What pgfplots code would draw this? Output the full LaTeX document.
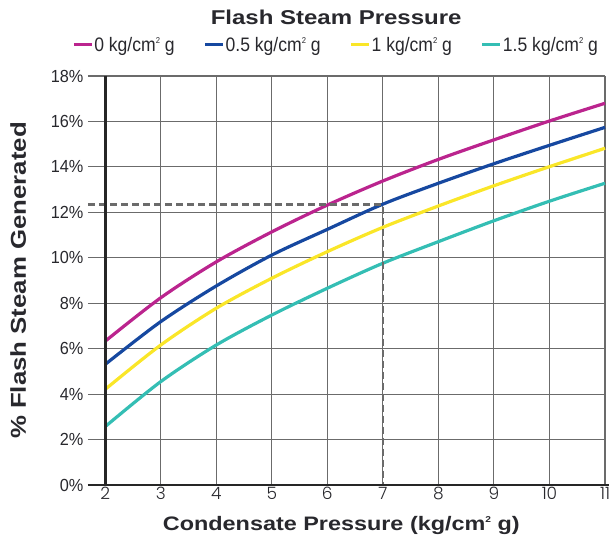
\documentclass[border=0pt]{standalone}
\usepackage{pgfplots}
\pgfplotsset{compat=1.18}
\usepackage{fontspec}
\setmainfont{Liberation Sans}
\newfontfamily\widefont{Liberation Sans}[FakeStretch=1.2]
\newfontfamily\narrowfont{Liberation Sans}[FakeStretch=0.9]
\newfontfamily\ytickfont{Liberation Sans}[FakeStretch=0.93]
\newfontfamily\tickfont{Poppins Light}
\newcommand{\sqr}{\raisebox{0.4em}{\fontsize{8.5}{8.5}\selectfont 2}}
\definecolor{cmag}{RGB}{187,36,142}
\definecolor{cblue}{RGB}{22,72,160}
\definecolor{cyel}{RGB}{250,230,40}
\definecolor{cteal}{RGB}{52,190,180}
\definecolor{ctext}{RGB}{40,40,45}
\begin{document}
\begin{tikzpicture}
\begin{axis}[
  scale only axis, width=517pt, height=409pt,
  xmin=1.69, xmax=11, ymin=0, ymax=18,
  xtick={2,...,11}, ytick={0,2,...,18},
  /pgf/number format/assume math mode=true,
  yticklabel={\pgfmathprintnumber{\tick}\%},
  grid=major, major grid style={black!58, line width=1.1pt},
  axis line style={draw=none},
  tick style={draw=none},
  yticklabel style={font=\ytickfont\fontsize{17.5}{19}\selectfont, text=ctext, xshift=-1pt},
  xticklabel style={font=\tickfont\fontsize{17}{18}\selectfont, text=ctext, yshift=1pt},
  xlabel={Condensate Pressure (kg/cm\sqr\ g)},
  ylabel={\% Flash Steam Generated},
  xlabel style={font=\widefont\bfseries\fontsize{19.5}{22}\selectfont, text=ctext, at={(axis description cs:0.49,-0.098)}, anchor=center},
  ylabel style={font=\widefont\bfseries\fontsize{21.5}{24}\selectfont, text=ctext, at={(axis description cs:-0.135,0.5)}, anchor=center},
  clip=false,
  legend columns=4,
  legend style={draw=none, fill=none, at={(axis description cs:0.479,1.076)}, anchor=center,
    font=\narrowfont\fontsize{19.5}{21}\selectfont, text=ctext,
    /tikz/every even column/.append style={column sep=28pt},
    inner sep=0pt, nodes={inner sep=1pt}},
  legend image code/.code={\draw[#1, line width=3pt] (0pt,0pt) -- (18pt,0pt);},
]
\addplot[cmag, line width=3.2pt, smooth] coordinates {
(2,6.33) (3,8.24) (4,9.82) (5,11.14) (6,12.32) (7,13.38) (8,14.33) (9,15.19) (10,16.02) (11,16.8)};
\addplot[cblue, line width=3.2pt, smooth] coordinates {
(2,5.31) (3,7.19) (4,8.76) (5,10.12) (6,11.25) (7,12.36) (8,13.28) (9,14.14) (10,14.95) (11,15.74)};
\addplot[cyel, line width=3.2pt, smooth] coordinates {
(2,4.21) (3,6.16) (4,7.78) (5,9.1) (6,10.27) (7,11.34) (8,12.28) (9,13.17) (10,14.01) (11,14.82)};
\addplot[cteal, line width=3.2pt, smooth] coordinates {
(2,2.57) (3,4.55) (4,6.16) (5,7.48) (6,8.66) (7,9.76) (8,10.71) (9,11.63) (10,12.49) (11,13.28)};
\legend{0 kg/cm\sqr\ g, 0.5 kg/cm\sqr\ g, 1 kg/cm\sqr\ g, 1.5 kg/cm\sqr\ g}
\addplot[black!58, line width=2.4pt, dash pattern=on 7pt off 4pt, forget plot] coordinates {(1.69,12.35) (7,12.35) (7,0)};
\draw[black!85, line width=2.8pt] (axis cs:2,0) -- (axis cs:2,18);
\draw[black!85, line width=2.8pt] (axis cs:1.69,0) -- (axis cs:11.07,0);
\node[font=\widefont\bfseries\fontsize{20}{22}\selectfont, text=ctext] at ([yshift=59pt]axis description cs:0.48,1) {Flash Steam Pressure};
\end{axis}
\pgfresetboundingbox
\path[use as bounding box] ([xshift=-88pt,yshift=-57pt]current axis.south west) rectangle ([xshift=521pt,yshift=485pt]current axis.south west);
\end{tikzpicture}
\end{document}
